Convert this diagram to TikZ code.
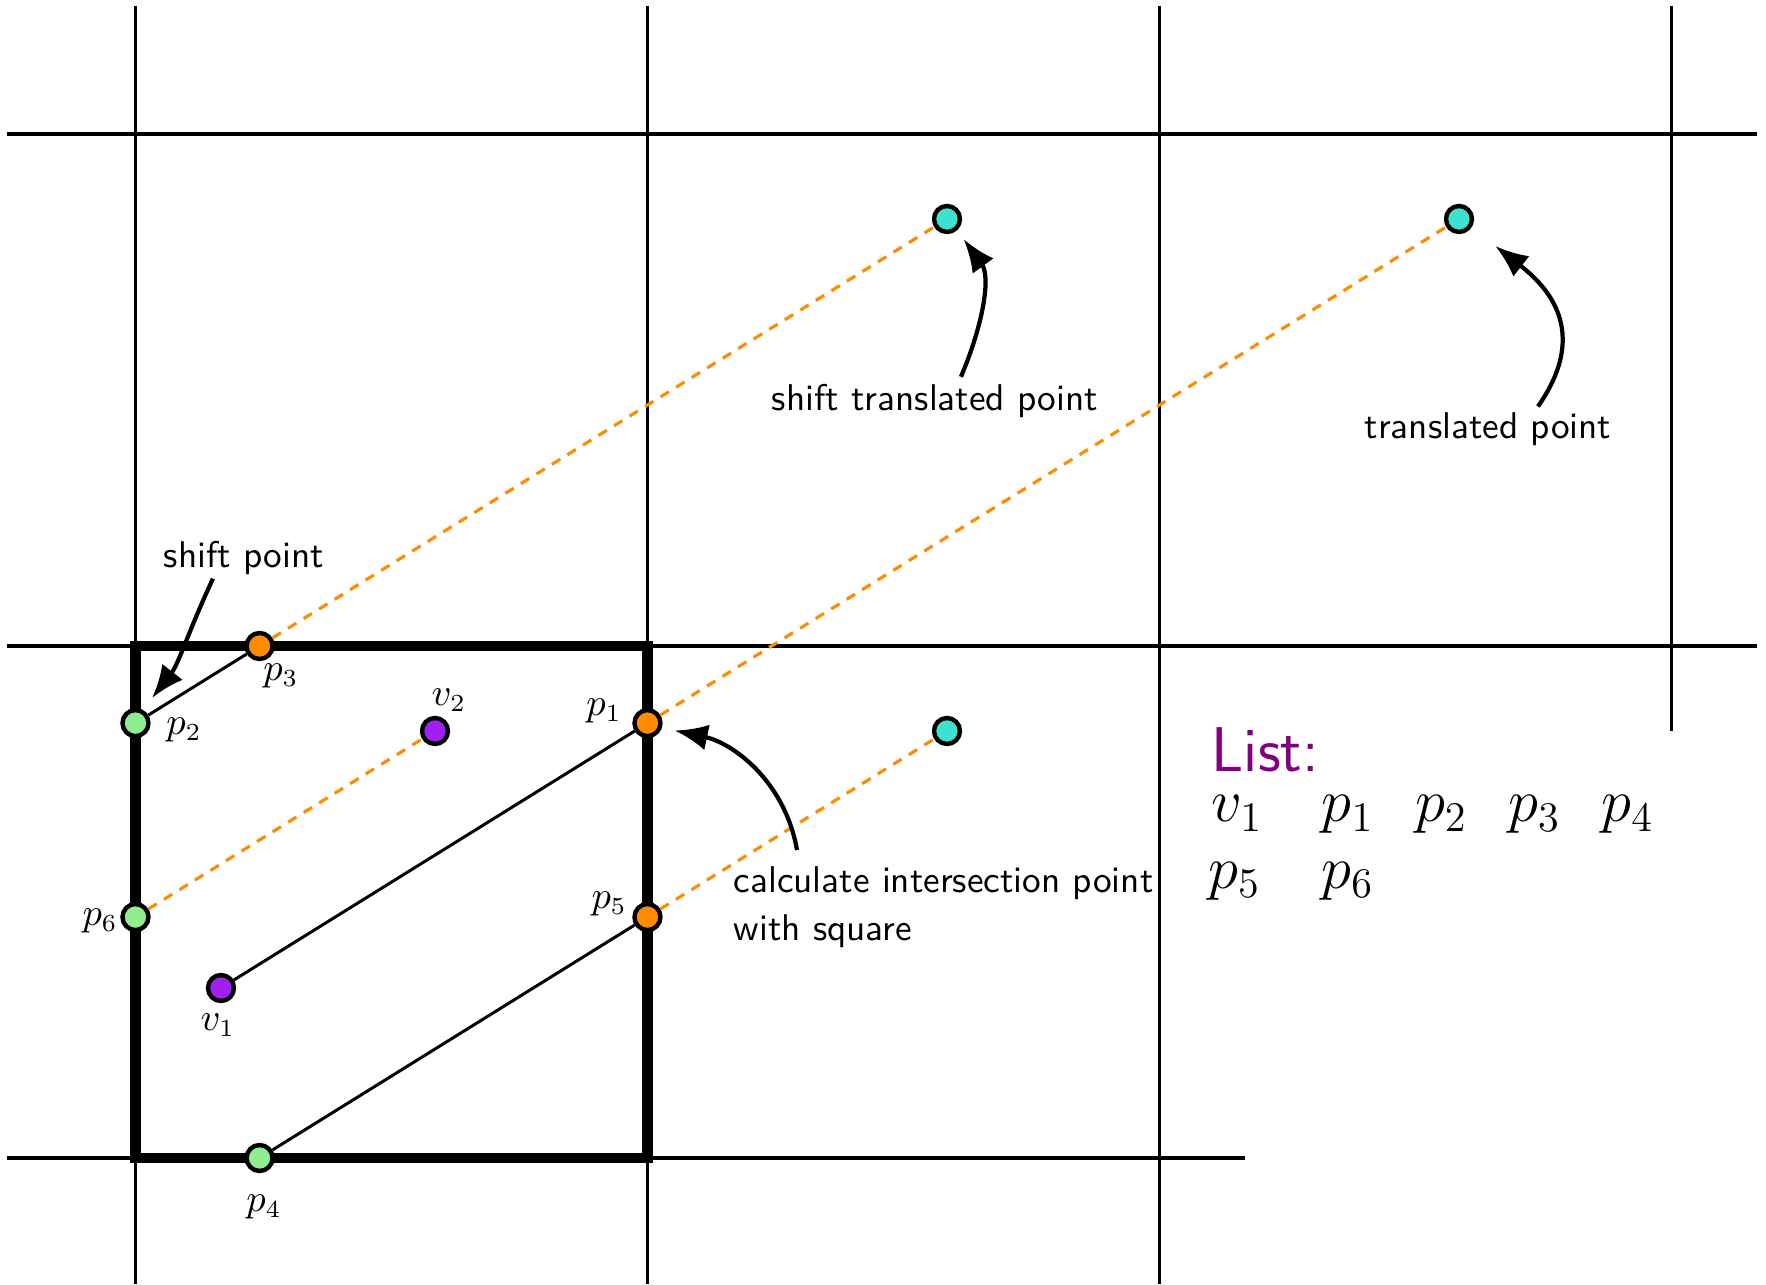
\documentclass[tikz,border=0pt]{standalone}
\usepackage{tikz}
\definecolor{ptorange}{RGB}{255,140,0}
\definecolor{ptgreen}{RGB}{144,238,144}
\definecolor{ptviolet}{RGB}{160,32,240}
\definecolor{ptcyan}{RGB}{64,224,208}
\definecolor{listpurple}{RGB}{128,0,128}
\usetikzlibrary{
  arrows.meta,
  positioning,
  calc
}

\begin{document}
\begin{tikzpicture}[
    x=5.12cm, y=5.12cm,
    gridline/.style={line width=0.95pt},
    cellbox/.style={line width=2.9pt},
    ptdot/.style={
      circle, draw=black, line width=1.25pt,
      inner sep=0pt, minimum size=2.6mm
    },
    seg/.style={line width=0.85pt},
    wrapline/.style={ptorange, line width=0.9pt, dash pattern=on 2.8pt off 2.4pt},
    note/.style={font=\fontsize{10.6}{13.6}\selectfont\sffamily, inner sep=1pt},
    ptlbl/.style={font=\fontsize{10.6}{13.6}\selectfont, inner sep=0pt},
    pointer/.style={-{Latex[length=3.3mm,width=2.6mm]}, line width=1.2pt},
    listtxt/.style={font=\fontsize{18}{22}\selectfont, inner sep=0pt, anchor=base west}
  ]
  \useasboundingbox (-0.2646,-0.2461) rectangle (3.1846,2.2617);

  %% Periodic grid
  \foreach \gx in {0,1,2}
    \draw[gridline] (\gx,-0.2461) -- (\gx,2.25);
  \draw[gridline] (3,0.834) -- (3,2.25);
  \foreach \gy in {1,2}
    \draw[gridline] (-0.251,\gy) -- (3.167,\gy);
  \draw[gridline] (-0.251,0) -- (2.167,0);

  %% Unit cell
  \draw[cellbox] (0,0) rectangle (1,1);

  %% Points
  \node[ptdot, fill=ptviolet] (v1) at (0.167,0.332)  {};
  \node[ptdot, fill=ptviolet] (v2) at (0.585,0.834)  {};
  \node[ptdot, fill=ptorange] (p1) at (1,0.8494)     {};
  \node[ptdot, fill=ptgreen]  (p2) at (0,0.8494)     {};
  \node[ptdot, fill=ptorange] (p3) at (0.2424,1)     {};
  \node[ptdot, fill=ptgreen]  (p4) at (0.2424,0)     {};
  \node[ptdot, fill=ptorange] (p5) at (1,0.4706)     {};
  \node[ptdot, fill=ptgreen]  (p6) at (0,0.4706)     {};
  \node[ptdot, fill=ptcyan]   (sh) at (1.585,1.834)  {};
  \node[ptdot, fill=ptcyan]   (tr) at (2.585,1.834)  {};
  \node[ptdot, fill=ptcyan]   (tw) at (1.585,0.834)  {};

  %% Segments inside the cell
  \draw[seg] (v1) -- (p1);
  \draw[seg] (p2) -- (p3);
  \draw[seg] (p4) -- (p5);

  %% Continuations outside the cell
  \draw[wrapline] (p1) -- (tr);
  \draw[wrapline] (p3) -- (sh);
  \draw[wrapline] (p5) -- (tw);
  \draw[wrapline] (p6) -- (v2);

  %% Point labels
  \node[ptlbl] (lv1) at (0.161,0.26)    {$v_1$};
  \node[ptlbl] (lv2) at (0.612,0.8945)  {$v_2$};
  \node[ptlbl] (lp1) at (0.915,0.873)   {$p_1$};
  \node[ptlbl] (lp2) at (0.0947,0.836)  {$p_2$};
  \node[ptlbl] (lp3) at (0.284,0.9414)  {$p_3$};
  \node[ptlbl] (lp4) at (0.251,-0.096)  {$p_4$};
  \node[ptlbl] (lp5) at (0.925,0.496)   {$p_5$};
  \node[ptlbl] (lp6) at (-0.069,0.463)  {$p_6$};

  %% Notes
  \node[note] (nshift) at (0.2119,1.1725) {shift point};
  \node[note] (nshtr)  at (1.5615,1.479)  {shift translated point};
  \node[note] (ntr)    at (2.6416,1.4225) {translated point};
  \node[note, align=left, anchor=north west] (ncalc) at (1.1602,0.5771)
    {calculate intersection point\\with square};

  \draw[pointer, shorten >=1.5mm] ([xshift=-3.1mm]nshift.south) to[out=245,in=52] (p2.61);
  \draw[pointer, shorten >=1.1mm] ([xshift=2.6mm,yshift=0.3mm]nshtr.north) to[out=67,in=-54] (sh.-48);
  \draw[pointer, shorten >=3mm] ([xshift=5mm,yshift=0.25mm]ntr.north) to[out=55,in=-38,looseness=1.25] (tr.-34);
  \draw[pointer, shorten >=1.3mm] ([xshift=6.75mm,yshift=1.25mm]ncalc.north west) to[out=100,in=-12] (p1.-18);

  %% List
  \node[listtxt, text=listpurple, font=\fontsize{18}{22}\selectfont\sffamily] (lhead)
    at (2.1006,0.7539) {List:};
  \node[listtxt] (lrow1) at (2.1006,0.65625)
    {$v_1$\hspace{5.9mm}$p_1$\hspace{4.1mm}$p_2$\hspace{4.1mm}$p_3$\hspace{4.1mm}$p_4$};
  \node[listtxt] (lrow2) at (2.094,0.5273) {$p_5$\hspace{6.1mm}$p_6$};

\end{tikzpicture}
\end{document}
